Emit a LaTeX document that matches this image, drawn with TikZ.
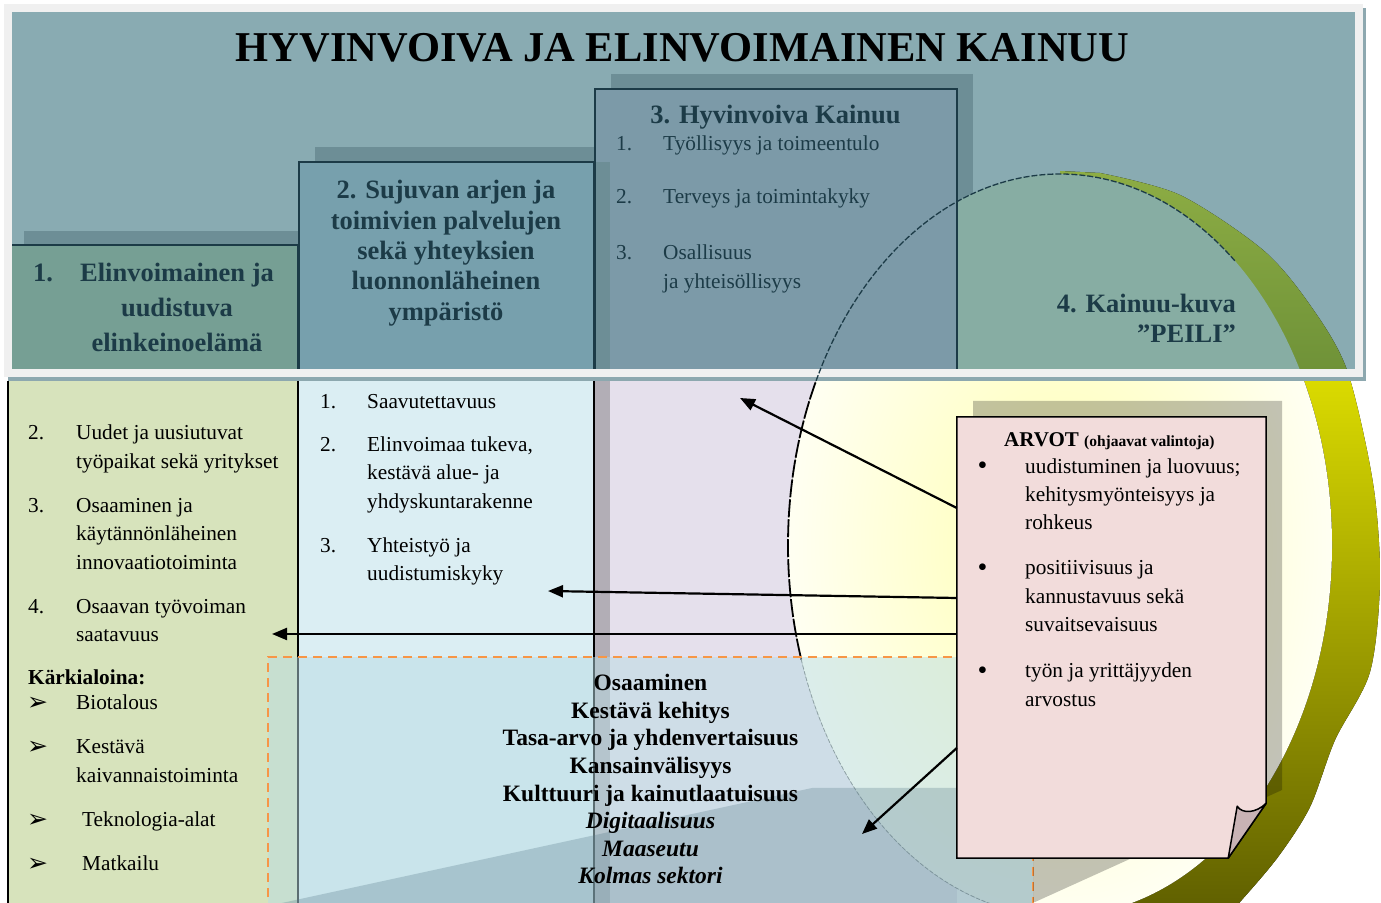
\documentclass[tikz,border=0pt]{standalone}
\usepackage{fontspec}
\setmainfont{Liberation Serif}
\newfontfamily\symfont{DejaVu Sans}
\usetikzlibrary{arrows.meta}

\definecolor{framegray}{HTML}{F0F0F0}
\definecolor{frameedge}{HTML}{8DA8AF}
\definecolor{bannerteal}{HTML}{89ABB2}
\definecolor{shadowteal}{HTML}{6D8E96}
\definecolor{headone}{HTML}{769F94}
\definecolor{headtwo}{HTML}{77A0AD}
\definecolor{headthree}{HTML}{7C9AA8}
\definecolor{headink}{HTML}{1C3B47}
\definecolor{bodyone}{HTML}{D7E3BC}
\definecolor{bodytwo}{HTML}{DBEEF3}
\definecolor{bodythree}{HTML}{E5E0EC}
\definecolor{stripgray}{HTML}{B2AEB6}
\definecolor{pinkbox}{HTML}{F2DCDB}
\definecolor{foldpink}{HTML}{C9B3B5}
\definecolor{dashorange}{HTML}{F79646}
\definecolor{mistblue}{HTML}{B8DCE4}
\definecolor{slateshade}{HTML}{5B7D8C}
\definecolor{leafgreen}{HTML}{8DAD44}
\definecolor{mossgreen}{HTML}{6F9238}
\definecolor{lemon}{HTML}{DADA00}
\definecolor{mustard}{HTML}{B8B800}
\definecolor{darkolive}{HTML}{5E5E00}
\definecolor{mirrorteal}{HTML}{87ADA3}
\definecolor{cream}{HTML}{FFFFF2}
\definecolor{paleyellow}{HTML}{FFFFB0}

% peilin reunat
\newcommand\mirrorband{(1060,357) -- (1060,731) -- plot[smooth] coordinates {(1100,729) (1180,707) (1263,652) (1310,597) (1347,532) (1373,419) (1380,322) (1370,230) (1335,162) (1310,95) (1278,45) (1240,0) (1225,-15)} -- (1100,-15) -- cycle}
\newcommand\mirrorshape{(1060,357) ellipse [x radius=272pt, y radius=371pt]}

\begin{document}
\begin{tikzpicture}[
          x=1pt, y=1pt,
          head/.style = {font=\fontsize{26.5}{30.3}\selectfont\bfseries, text=headink, inner sep=0pt},
          headitem/.style = {font=\fontsize{21.3}{29}\selectfont, text=headink, inner sep=0pt, align=left, anchor=base west},
          bodytext/.style = {font=\fontsize{21.3}{28.2}\selectfont, inner sep=0pt, align=left, anchor=base west},
          coretext/.style = {font=\fontsize{23.5}{27.6}\selectfont\bfseries, inner sep=0pt, align=center, anchor=base},
          arrowbullet/.style = {font=\symfont\fontsize{25}{28}\selectfont, inner sep=0pt, anchor=base west},
          bulletdot/.style = {font=\fontsize{28}{30}\selectfont, inner sep=0pt, anchor=base},
          headline/.style = {draw=headink, line width=1.5pt},
          colline/.style = {draw=black, line width=1.5pt},
          pointer/.style = {-{Triangle[length=15pt, width=12pt]}, line width=2.2pt},
          arvotbox/.style = {minimum width=309pt, minimum height=441pt, inner sep=0pt},
          mirroredge/.style = {x radius=272pt, y radius=371pt},
          mirrortop/.style = {draw=headink, line width=1.3pt, dash pattern=on 6pt off 2pt},
          mirrorside/.style = {draw=black, line width=1.8pt, dash pattern=on 18pt off 2pt},
          mirrorfoot/.style = {draw=black!60, line width=0.8pt, dash pattern=on 4pt off 2pt}
         ]
        \useasboundingbox (0,0) rectangle (1381,902);
        \fill[white] (0,0) rectangle (1381,902);

        % Kehys ja otsikkopalkki
        \fill[framegray] (4,525) rectangle (1363,898);
        \fill[frameedge] (1363,522) rectangle (1366,894);
        \fill[bannerteal] (12,533) rectangle (1355,890);

        % Sarakkeet
        \fill[bodyone] (8,-5) rectangle (298,521);
        \fill[bodytwo] (298,-5) rectangle (594,521);
        \fill[bodythree] (594,-5) rectangle (957,521);
        \fill[stripgray] (594,-5) rectangle (610,521);

        % Varjot
        \fill[shadowteal] (24,657) rectangle (298,671);
        \fill[shadowteal] (315,740) rectangle (610,755);
        \fill[shadowteal] (611,813) rectangle (973,828);
        \fill[shadowteal] (957,533) rectangle (973,828);

        % Peili (palkin sisällä)
        \begin{scope}
          \clip (12,533) rectangle (1355,890);
          \begin{scope}
            \clip \mirrorband;
            \fill[top color=leafgreen, bottom color=mossgreen] (1000,533) rectangle (1381,731);
          \end{scope}
          \fill[mirrorteal] \mirrorshape;
        \end{scope}

        % Peili (palkin alla)
        \begin{scope}
          \clip (0,-20) rectangle (1381,521);
          \begin{scope}
            \clip \mirrorband;
            \fill[top color=lemon, middle color=mustard, bottom color=darkolive] (1000,-15) rectangle (1381,521);
          \end{scope}
          \fill[inner color=paleyellow, outer color=cream] \mirrorshape;
        \end{scope}
        \fill[frameedge] (8,521) rectangle (1366,525);

        % Otsikkolaatikot
        \fill[headthree] (595,533) rectangle (957,813);
        \fill[shadowteal] (594,533) rectangle (610,740);
        \fill[headtwo] (299,533) rectangle (594,740);
        \fill[headone] (12,533) rectangle (298,657);
        \draw[headline] (12,657) -- (298,657) -- (298,533);
        \draw[headline] (299,533) -- (299,740) -- (594,740) -- (594,533);
        \draw[headline] (595,533) -- (595,813) -- (957,813) -- (957,533);
        \draw[colline] (8,521) -- (8,-5);
        \draw[colline] (298,521) -- (298,-5);
        \draw[colline] (594,521) -- (594,-5);

        % Peilin reunaviiva
        \draw[mirrortop] ([shift={(50:272pt and 371pt)}]1060,357) arc[mirroredge, start angle=50, end angle=154];
        \draw[mirrorside] ([shift={(154:272pt and 371pt)}]1060,357) arc[mirroredge, start angle=154, end angle=198];
        \draw[mirrorfoot] ([shift={(198:272pt and 371pt)}]1060,357) arc[mirroredge, start angle=198, end angle=265];

        % Läpileikkaavat teemat
        \fill[mistblue, fill opacity=0.5] (268,-10) rectangle (1033,245);
        \fill[slateshade, fill opacity=0.3] (268,-4) -- (812,114) -- (1033,114) -- (1033,-10) -- (268,-10) -- cycle;
        \draw[dashorange, line width=2pt, dash pattern=on 9pt off 6pt] (268,-10) -- (268,245) -- (1033,245) -- (1033,-10);

        % ARVOT-lappu
        \node[arvotbox] (arvot) at (1111.5,264.5) {};
        \fill[black, fill opacity=0.24] (973,501) -- (1282,501) -- (1282,112) -- (1035,0) -- (1033,0) -- (1033,44) -- (973,44) -- cycle;
        \filldraw[fill=pinkbox, draw=black, line width=1.5pt] (arvot.north west) -- (arvot.north east) -- ([yshift=55pt]arvot.south east) -- ([xshift=-38pt]arvot.south east) -- (arvot.south west) -- cycle;
        \filldraw[fill=foldpink, draw=black, line width=1.5pt, line join=round] ([xshift=-38pt]arvot.south east) -- ([xshift=-29pt, yshift=52pt]arvot.south east) .. controls ([xshift=-24pt, yshift=44pt]arvot.south east) and ([xshift=-10pt, yshift=45pt]arvot.south east) .. ([yshift=55pt]arvot.south east) -- cycle;

        % Pääotsikko
        \node[font=\fontsize{42.5}{48}\selectfont\bfseries, inner sep=0pt, anchor=base] (title) at (682.5,840) {HYVINVOIVA JA ELINVOIMAINEN KAINUU};

        % 1. Elinvoimainen ja uudistuva elinkeinoelämä
        \node[head, anchor=base west] (h1num) at (33,620.3) {1.};
        \node[head, anchor=base west] (h1a) at (80,620.3) {Elinvoimainen ja};
        \node[head, font=\fontsize{26.5}{35}\selectfont\bfseries, align=center, anchor=base] (h1b) at (177,550.3) {uudistuva\\elinkeinoelämä};

        % 2. Sujuvan arjen ja toimivien palvelujen ...
        \node[head, align=center, anchor=base] (h2) at (446,581.8) {2. Sujuvan arjen ja\\toimivien palvelujen\\sekä yhteyksien\\luonnonläheinen\\ympäristö};

        % 3. Hyvinvoiva Kainuu
        \node[head, anchor=base] (h3) at (775.5,778) {3. Hyvinvoiva Kainuu};
        \node[headitem] (h3n1) at (616,751.3) {1.};
        \node[headitem] (h3t1) at (663,751.3) {Työllisyys ja toimeentulo};
        \node[headitem] (h3n2) at (616,698) {2.};
        \node[headitem] (h3t2) at (663,698) {Terveys ja toimintakyky};
        \node[headitem] (h3n3) at (616,642.7) {3.};
        \node[headitem] (h3t3) at (663,613.7) {Osallisuus\\ja yhteisöllisyys};

        % 4. Kainuu-kuva
        \node[head, align=right, anchor=base east] (h4) at (1236,559) {4. Kainuu-kuva\\”PEILI”};

        % Sarake 1
        \node[bodytext] (c1n2) at (28,462) {2.};
        \node[bodytext] (c1t2) at (76,433.8) {Uudet ja uusiutuvat\\työpaikat sekä yritykset};
        \node[bodytext] (c1n3) at (28,389.3) {3.};
        \node[bodytext] (c1t3) at (76,332.9) {Osaaminen ja\\käytännönläheinen\\innovaatiotoiminta};
        \node[bodytext] (c1n4) at (28,288.7) {4.};
        \node[bodytext] (c1t4) at (76,260.5) {Osaavan työvoiman\\saatavuus};
        \node[bodytext] (karki) at (28,217) {\textbf{Kärkialoina:}};
        \node[arrowbullet] (kb1) at (27,191) {➢};
        \node[bodytext] (kt1) at (76,192) {Biotalous};
        \node[arrowbullet] (kb2) at (27,147) {➢};
        \node[bodytext] (kt2) at (76,119.8) {Kestävä\\kaivannaistoiminta};
        \node[arrowbullet] (kb3) at (27,74.3) {➢};
        \node[bodytext] (kt3) at (82,75.3) {Teknologia-alat};
        \node[arrowbullet] (kb4) at (27,30.3) {➢};
        \node[bodytext] (kt4) at (82,31.3) {Matkailu};

        % Sarake 2
        \node[bodytext] (c2n1) at (320,493.7) {1.};
        \node[bodytext] (c2t1) at (367,493.7) {Saavutettavuus};
        \node[bodytext] (c2n2) at (320,450.3) {2.};
        \node[bodytext] (c2t2) at (367,393.9) {Elinvoimaa tukeva,\\kestävä alue- ja\\yhdyskuntarakenne};
        \node[bodytext] (c2n3) at (320,349.3) {3.};
        \node[bodytext] (c2t3) at (367,321.1) {Yhteistyö ja\\uudistumiskyky};

        % Läpileikkaavat teemat
        \node[coretext] (core) at (650.5,18.1) {Osaaminen\\Kestävä kehitys\\Tasa-arvo ja yhdenvertaisuus\\Kansainvälisyys\\Kulttuuri ja kainutlaatuisuus\\\textit{Digitaalisuus}\\\textit{Maaseutu}\\\textit{Kolmas sektori}};

        % Arvot
        \node[bodytext, font=\fontsize{21}{28}\selectfont\bfseries] (arvotitle) at (1004,455.3) {ARVOT {\fontsize{15.5}{20}\selectfont (ohjaavat valintoja)}};
        \node[bulletdot] (ab1) at (982.5,427.5) {•};
        \node[bodytext] (at1) at (1025,372.3) {uudistuminen ja luovuus;\\kehitysmyönteisyys ja\\rohkeus};
        \node[bulletdot] (ab2) at (982.5,325.8) {•};
        \node[bodytext] (at2) at (1025,270.6) {positiivisuus ja\\kannustavuus sekä\\suvaitsevaisuus};
        \node[bulletdot] (ab3) at (982.5,222.8) {•};
        \node[bodytext] (at3) at (1025,195.8) {työn ja yrittäjyyden\\arvostus};

        % Nuolet
        \coordinate (toHyv) at (740,504);
        \coordinate (toSuj) at (548,311);
        \coordinate (toElin) at (272,268);
        \coordinate (toCore) at (862,68);
        \draw[pointer] ([yshift=129.5pt]arvot.west) -- (toHyv);
        \draw[pointer] ([yshift=39.5pt]arvot.west) -- (toSuj);
        \draw[pointer] ([yshift=3.5pt]arvot.west) -- (toElin);
        \draw[pointer] ([yshift=-110.5pt]arvot.west) -- (toCore);

        \end{tikzpicture}
\end{document}
